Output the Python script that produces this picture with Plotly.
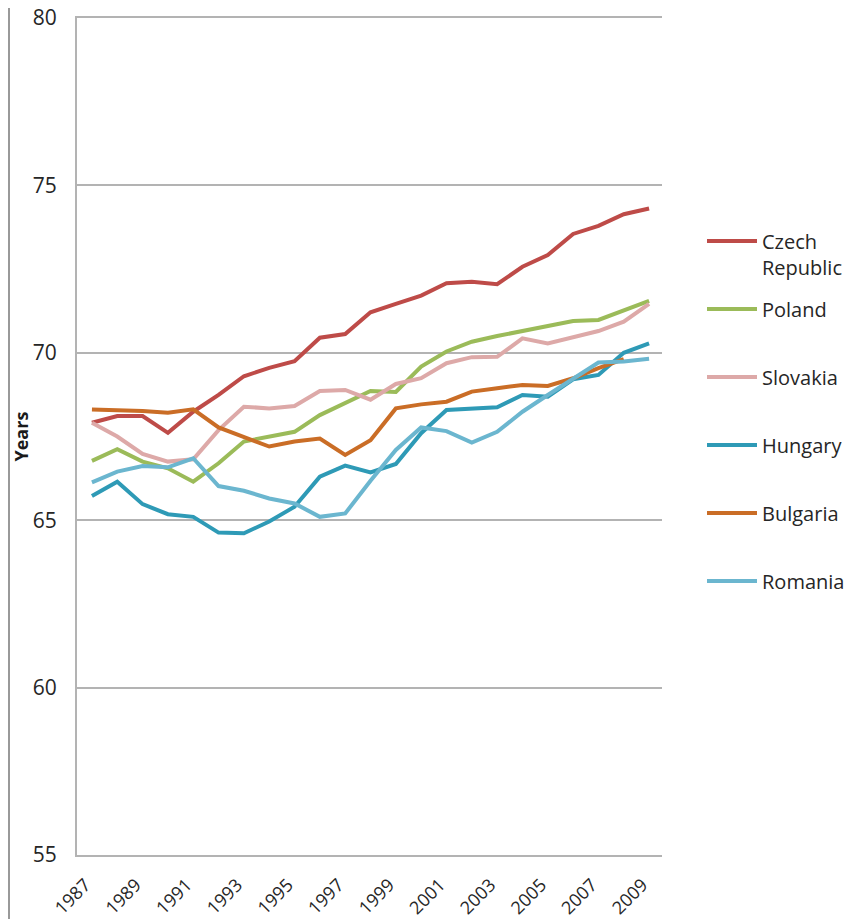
import plotly.graph_objects as go

years = list(range(1987, 2010))

czech = [67.91, 68.11, 68.11, 67.61, 68.24, 68.74, 69.30, 69.55, 69.75, 70.45, 70.56, 71.21,
         71.46, 71.71, 72.08, 72.12, 72.05, 72.57, 72.92, 73.55, 73.79, 74.14, 74.31]
poland = [66.77, 67.12, 66.75, 66.55, 66.15, 66.70, 67.35, 67.48, 67.64, 68.14, 68.49, 68.86,
          68.83, 69.59, 70.04, 70.33, 70.50, 70.65, 70.78, 70.95, 70.98, 71.28, 71.55]
slovakia = [67.91, 67.50, 66.98, 66.75, 66.82, 67.69, 68.39, 68.34, 68.41, 68.86, 68.89, 68.60,
            69.07, 69.24, 69.69, 69.87, 69.88, 70.43, 70.28, 70.46, 70.65, 70.93, 71.46]
hungary = [65.72, 66.15, 65.48, 65.18, 65.10, 64.63, 64.61, 64.96, 65.40, 66.30, 66.63, 66.43,
           66.68, 67.60, 68.29, 68.34, 68.37, 68.74, 68.69, 69.21, 69.34, 70.00, 70.28]
bulgaria = [68.31, 68.29, 68.26, 68.21, 68.31, 67.77, 67.48, 67.20, 67.35, 67.44, 66.95, 67.39,
            68.34, 68.46, 68.54, 68.84, 68.94, 69.04, 69.01, 69.24, 69.54, 69.81, None]
romania = [66.13, 66.45, 66.62, 66.58, 66.85, 66.02, 65.88, 65.65, 65.50, 65.10, 65.20, 66.18,
           67.10, 67.77, 67.66, 67.32, 67.64, 68.24, 68.74, 69.24, 69.71, 69.74, 69.82]

series = [
    ("Czech<br>Republic", czech, "#BE4B48"),
    ("Poland<br> ", poland, "#9BBB59"),
    ("Slovakia<br> ", slovakia, "#DDA9A8"),
    ("Hungary<br> ", hungary, "#2E9AB6"),
    ("Bulgaria<br> ", bulgaria, "#CA6D26"),
    ("Romania<br> ", romania, "#6BB6CF"),
]

tick_years = list(range(1987, 2010, 2))
tick_labels = [f"{y}\u00a0\u00a0" for y in tick_years]
y_ticks = [55, 60, 65, 70, 75, 80]

OFF = 8  # page body margin offset
W, H = 852 - OFF, 919 - OFF
L, T = 77 - OFF, 18 - OFF
R, B = W - (662 - OFF), H - (855 - OFF)
pw, ph = W - L - R, H - T - B

fig = go.Figure()
for i, (name, vals, col) in enumerate(series):
    fig.add_trace(go.Scatter(x=years, y=vals, name=name, mode="lines",
                             line=dict(color=col, width=4), legendgroup=str(i)))

fig.update_layout(
    width=W, height=H,
    margin=dict(l=L, r=R, t=T, b=B, autoexpand=False),
    plot_bgcolor="white", paper_bgcolor="white",
    font=dict(family="Open Sans, sans-serif", color="#262626"),
    legend=dict(x=(702 - 77) / pw, y=0.757, xanchor="left", yanchor="top",
                font=dict(size=20, color="#262626"), tracegroupgap=13,
                valign="top", itemwidth=50),
    showlegend=True,
)
fig.update_xaxes(range=[1986.41, 2009.51], tickvals=tick_years, ticktext=tick_labels,
                 tickangle=-45,
                 showgrid=False, zeroline=False, showline=True, mirror=True,
                 linecolor="#B3B3B3", linewidth=1.5, ticks="", automargin=False,
                 ticklabelstandoff=4, ticklabeloverflow="allow",
                 tickfont=dict(size=18, color="#262626"))
fig.update_yaxes(range=[55, 80], tickvals=y_ticks, showgrid=True, gridcolor="#B3B3B3",
                 gridwidth=1.5, zeroline=False, showline=True, linecolor="#B3B3B3",
                 linewidth=2, ticks="", automargin=False, ticklabelstandoff=14,
                 ticklabeloverflow="allow",
                 tickfont=dict(size=21, color="#262626"))
fig.add_annotation(text="<b>Years</b>", xref="paper", yref="paper",
                   x=(20 - 77) / pw, y=0.5, xanchor="center", yanchor="middle",
                   textangle=-90, showarrow=False,
                   font=dict(size=18, color="#1a1a1a"))
fig.add_shape(type="line", xref="paper", yref="paper", x0=-(L - 1) / pw, x1=-(L - 1) / pw,
              y0=-B / ph, y1=1 + T / ph, line=dict(color="#999999", width=2))

fig.write_html("out.html")
